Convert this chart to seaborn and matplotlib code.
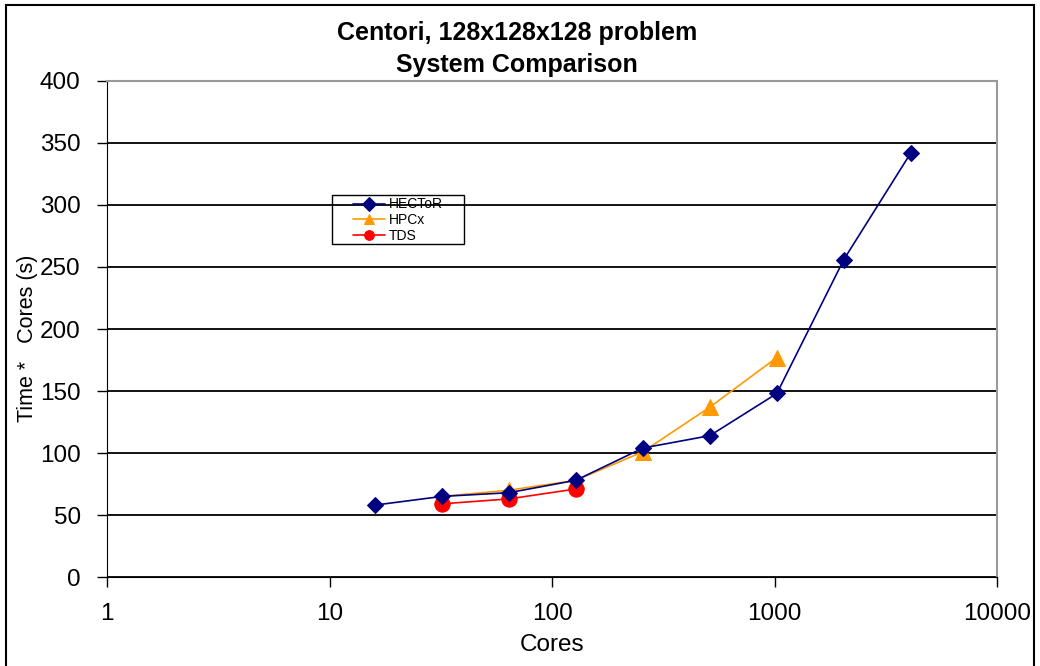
import pandas as pd
import matplotlib
matplotlib.use("Agg")
import matplotlib.pyplot as plt
from matplotlib.patches import Rectangle
import seaborn as sns

# values
hector_cores = [16, 32, 64, 128, 256, 512, 1024, 2048, 4096]
hector_time = [58, 65, 68, 78, 104, 114, 148, 256, 342]
hpcx_cores = [32, 64, 128, 256, 512, 1024]
hpcx_time = [65, 70, 78, 101, 137, 177]
tds_cores = [32, 64, 128]
tds_time = [59, 63, 71]

y_ticks = [0, 50, 100, 150, 200, 250, 300, 350, 400]
x_ticks = [1, 10, 100, 1000, 10000]

df = pd.concat([
    pd.DataFrame({"Cores": hector_cores, "Time": hector_time, "System": "HECToR"}),
    pd.DataFrame({"Cores": hpcx_cores, "Time": hpcx_time, "System": "HPCx"}),
    pd.DataFrame({"Cores": tds_cores, "Time": tds_time, "System": "TDS"}),
], ignore_index=True)

sns.set_style("white")
plt.rcParams["font.family"] = ["Liberation Sans", "DejaVu Sans"]
plt.rcParams["text.color"] = "black"
plt.rcParams["axes.labelcolor"] = "black"

palette = {"HECToR": "#000080", "HPCx": "#FF9900", "TDS": "#FF0000"}
markers = {"HECToR": "D", "HPCx": "^", "TDS": "o"}
sizes = {"HECToR": 8, "HPCx": 11, "TDS": 11}

fig = plt.figure(figsize=(10.4, 6.66), dpi=100)
ax = fig.add_axes([0.1029, 0.1336, 0.8558, 0.7448])

for name in ["HECToR", "HPCx", "TDS"]:
    sub = df[df["System"] == name]
    sns.lineplot(data=sub, x="Cores", y="Time", ax=ax, color=palette[name],
                 marker=markers[name], markersize=sizes[name], markeredgecolor=palette[name],
                 linewidth=1.2, label=name, zorder=3 if name != "HECToR" else 4)

ax.set_xscale("log")
ax.set_xlim(1, 10000)
ax.set_ylim(0, 400)
ax.set_xticks(x_ticks)
ax.set_xticklabels([str(t) for t in x_ticks])
ax.minorticks_off()
ax.set_yticks(y_ticks)
ax.yaxis.grid(True, color="black", linewidth=1.3)
ax.set_axisbelow(True)
ax.tick_params(axis="both", direction="out", length=7, width=1, colors="black",
               labelsize=17.5, bottom=True, left=True)
ax.tick_params(axis="x", pad=12)
ax.tick_params(axis="y", pad=12)
ax.spines["top"].set_color("#999999")
ax.spines["right"].set_color("#999999")
ax.spines["top"].set_linewidth(1.5)
ax.spines["right"].set_linewidth(1.5)
ax.spines["left"].set_color("black")
ax.spines["bottom"].set_color("black")

ax.set_xlabel("Cores", fontsize=17.5, labelpad=6)
ax.set_ylabel("Time *   Cores (s)", fontsize=15.5)
ax.yaxis.set_label_coords(-0.078, 0.482)
fig.text(0.497, 0.950, "Centori, 128x128x128 problem", ha="center", va="center",
         fontsize=18, fontweight="bold")
fig.text(0.497, 0.902, "System Comparison", ha="center", va="center",
         fontsize=18, fontweight="bold")

leg = ax.legend(loc="upper left", bbox_to_anchor=(0.3394, 0.7035),
                bbox_transform=fig.transFigure, frameon=False, fontsize=10,
                borderpad=0, labelspacing=0.12, handlelength=2.3,
                handletextpad=0.25, borderaxespad=0)
for h in leg.legend_handles:
    h.set_markersize(7)
ax.add_patch(Rectangle((0.3192, 0.6336), 0.1269, 0.0736, transform=fig.transFigure,
                       fill=False, edgecolor="black", linewidth=1, zorder=5))

fig.patches.append(Rectangle((0.006, -0.01), 0.988, 1.002, transform=fig.transFigure,
                             fill=False, edgecolor="black", linewidth=1.5))

fig.savefig("out.png", dpi=100, facecolor="white")
